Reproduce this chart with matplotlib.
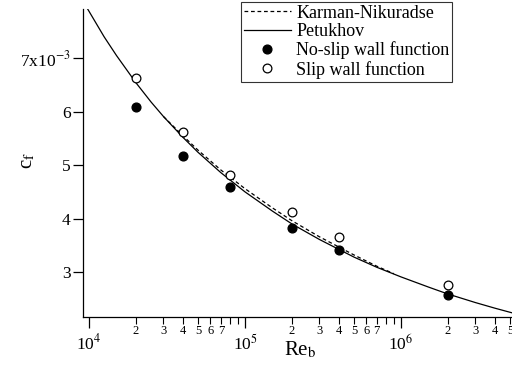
import math

import matplotlib
matplotlib.use("Agg")
import matplotlib.pyplot as plt
from matplotlib.ticker import LogLocator, FuncFormatter, FixedLocator

plt.rcParams["font.family"] = ["Liberation Serif", "DejaVu Serif"]
plt.rcParams["mathtext.fontset"] = "stix"

# data
re_pts = [2e4, 4e4, 8e4, 2e5, 4e5, 2e6]
cf_noslip = [6.08e-3, 5.17e-3, 4.60e-3, 3.82e-3, 3.41e-3, 2.58e-3]
cf_slip = [6.63e-3, 5.62e-3, 4.82e-3, 4.12e-3, 3.66e-3, 2.75e-3]

re_pet = [9.8e3, 1.25e4, 1.5e4, 2e4, 2.5e4, 3e4, 4e4, 5e4, 7e4, 1e5, 1.5e5,
          2e5, 3e5, 5e5, 7e5, 1e6, 1.5e6, 2e6, 3e6, 4e6, 5.2e6]
cf_pet = [7.92e-3, 7.40e-3, 7.05e-3, 6.54e-3, 6.18e-3, 5.91e-3, 5.52e-3,
          5.24e-3, 4.86e-3, 4.50e-3, 4.14e-3, 3.90e-3, 3.61e-3, 3.28e-3,
          3.09e-3, 2.91e-3, 2.72e-3, 2.59e-3, 2.43e-3, 2.325e-3, 2.235e-3]

re_kn = [3e4, 4e4, 5e4, 7e4, 1e5, 1.5e5, 2e5, 3e5, 5e5, 7e5, 9e5]
cf_kn = [5.91e-3, 5.55e-3, 5.28e-3, 4.91e-3, 4.56e-3, 4.20e-3, 3.96e-3,
         3.66e-3, 3.32e-3, 3.11e-3, 2.97e-3]

yticks = [3e-3, 4e-3, 5e-3, 6e-3, 7e-3]
ytick_labels = ["3", "4", "5", "6", "7x10$^{-3}$"]

fig = plt.figure(figsize=(5.12, 3.66), dpi=100)
ax = fig.add_axes([83 / 512, 49 / 366, 1 - 83 / 512, 308 / 366])

ax.plot(re_kn, cf_kn, color="black", lw=0.9, ls=(0, (3, 2.2)), label="Karman-Nikuradse")
ax.plot(re_pet, cf_pet, color="black", lw=0.9, label="Petukhov")
ax.plot(re_pts, cf_noslip, "o", color="black", ms=6.3, label="No-slip wall function")
ax.plot(re_pts, cf_slip, "o", mfc="white", mec="black", mew=0.9, ms=6.3,
        label="Slip wall function")

ax.set_xscale("log")
ax.set_xlim(9.15e3, 5.15e6)
ax.set_ylim(2.16e-3, 7.92e-3)

for s in ("top", "right"):
    ax.spines[s].set_visible(False)
for s in ("left", "bottom"):
    ax.spines[s].set_linewidth(0.9)

ax.yaxis.set_major_locator(FixedLocator(yticks))
ax.set_yticklabels(ytick_labels)
ax.tick_params(axis="y", which="major", direction="out", length=7, width=0.9,
               labelsize=12.5, pad=2)

ax.xaxis.set_major_locator(LogLocator(base=10, numticks=10))
ax.xaxis.set_minor_locator(LogLocator(base=10, subs=range(2, 10), numticks=20))


def major_fmt(v, pos):
    return "10$^{%d}$" % int(round(math.log10(v)))


def minor_fmt(v, pos):
    d = int(round(v / 10 ** math.floor(math.log10(v) + 1e-9)))
    return str(d) if 2 <= d <= 7 else ""


ax.xaxis.set_major_formatter(FuncFormatter(major_fmt))
ax.xaxis.set_minor_formatter(FuncFormatter(minor_fmt))
ax.tick_params(axis="x", which="major", direction="out", length=8, width=0.9,
               labelsize=12.5, pad=4)
ax.tick_params(axis="x", which="minor", direction="out", length=5, width=0.8,
               labelsize=9, pad=1)

fig.text(28 / 512, 1 - 160 / 366, "c$_\\mathrm{f}$", fontsize=15, rotation=90,
         ha="center", va="center")
fig.text(300 / 512, 1 - 350 / 366, "Re$_\\mathrm{b}$", fontsize=15,
         ha="center", va="center")

leg = ax.legend(loc="upper left", bbox_to_anchor=(241 / 512, 1 - 2 / 366),
                bbox_transform=fig.transFigure, fontsize=13, frameon=True,
                fancybox=False, handlelength=2.6, handletextpad=0.3,
                labelspacing=0.08, borderpad=0.15, borderaxespad=0)
leg.get_frame().set_edgecolor("black")
leg.get_frame().set_linewidth(0.8)

fig.savefig("out.png", dpi=100)
